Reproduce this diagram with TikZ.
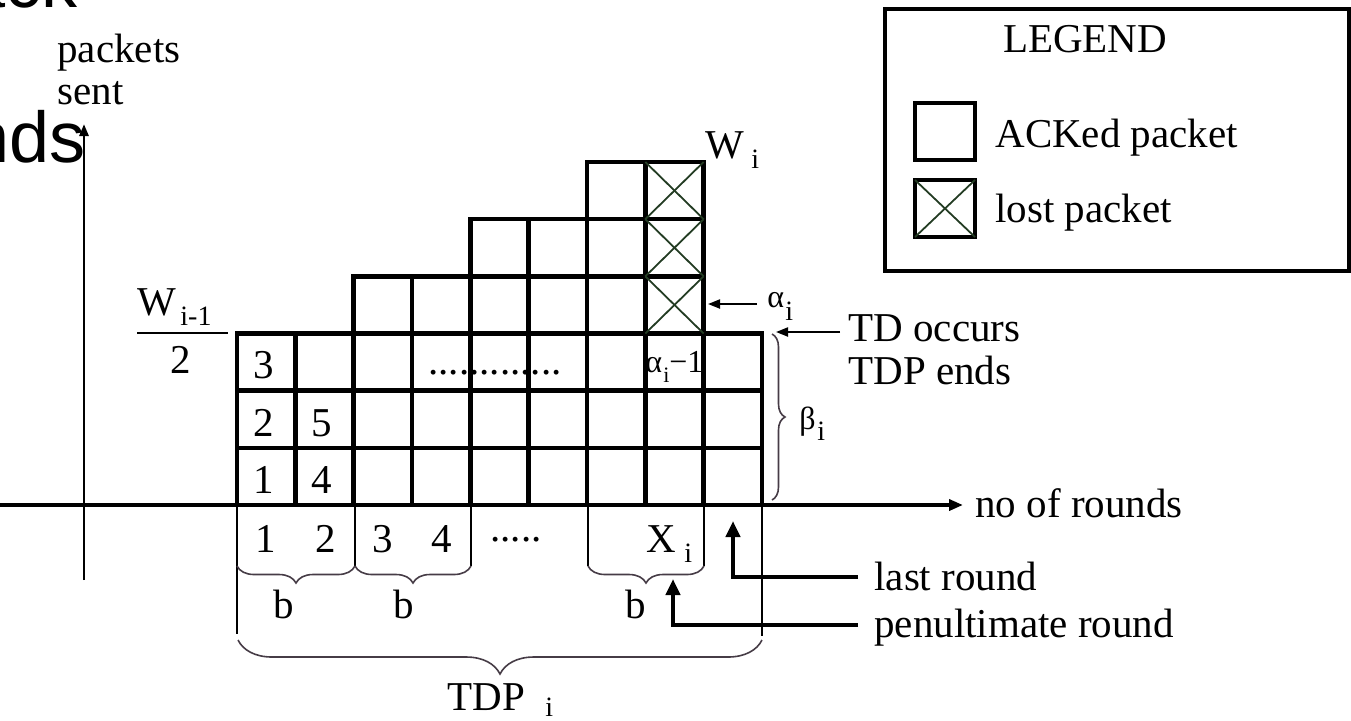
\documentclass[tikz,border=0pt]{standalone}
\usepackage{fontspec}
\setmainfont{Liberation Serif}
\newfontfamily\slidefont{Liberation Sans}
\usetikzlibrary{arrows.meta,decorations.pathreplacing}
\definecolor{xcol}{RGB}{35,60,35}
\definecolor{brcol}{RGB}{70,60,70}
\begin{document}
\begin{tikzpicture}[x=0.5pt,y=-0.5pt,
  lbl/.style={inner sep=0pt, font=\fontsize{20.5}{24}\selectfont},
  greek/.style={inner sep=0pt, font=\fontsize{16}{19}\selectfont},
  sub/.style={inner sep=0pt, font=\fontsize{14}{16}\selectfont},
  smallsub/.style={inner sep=0pt, font=\fontsize{11}{13}\selectfont},
  slide/.style={inner sep=0pt, font=\slidefont\fontsize{36}{40}\selectfont},
  cellline/.style={line width=2.2pt},
  crossline/.style={line width=0.9pt, draw=xcol},
  legline/.style={line width=1pt},
  axisline/.style={line width=2.3pt, -{Triangle[length=7pt,width=5.5pt]}},
  yaxisline/.style={line width=1.4pt, -{Triangle[length=6pt,width=4.5pt]}},
  thinarr/.style={line width=1pt, -{Triangle[length=6pt,width=4.5pt]}},
  bigarr/.style={line width=2pt, -{Triangle[length=8pt,width=7pt]}},
  bracedown/.style={decorate, decoration={brace,mirror,amplitude=#1}, line width=0.8pt, draw=brcol},
  braceright/.style={decorate, decoration={brace,amplitude=#1}, line width=0.8pt, draw=brcol},
  boxline/.style={line width=2pt}
]
\useasboundingbox (0,0) rectangle (1351,720);
\clip (0,0) rectangle (1351,720);

% slide fragments
\node[slide,anchor=base east] (fragA) at (78,7) {ack};
\node[slide,anchor=base east] (fragB) at (86,162) {nds};

% grid of packets
\foreach \h [count=\c from 0] in {3,3,4,4,5,5,6,6,3} {
  \foreach \r in {1,...,\h} {
    \draw[cellline] ({237+\c*58.33},{505-(\r-1)*57.17}) rectangle ++(58.33,-57.17);
  }
}
\foreach \r in {4,5,6} {
  \draw[crossline] ({237+7*58.33},{505-(\r-1)*57.17}) -- ++(58.33,-57.17);
  \draw[crossline] ({237+8*58.33},{505-(\r-1)*57.17}) -- ++(-58.33,-57.17);
}

% axes
\coordinate (xo) at (0,505);
\coordinate (xe) at (963,505);
\draw[axisline] (xo) -- (xe);
\coordinate (yo) at (84,580);
\coordinate (ye) at (84,124);
\draw[yaxisline] (yo) -- (ye);

\node[lbl,anchor=base west] (packets) at (57,62) {packets};
\node[lbl,anchor=base west] (sent) at (57,104) {sent};
\node[lbl,anchor=base west] (rounds) at (975,517) {no of rounds};

% fraction W_{i-1}/2
\node[lbl,anchor=base west] (wim) at (137,315) {W};
\node[sub,anchor=base west] (wimsub) at (180,325) {i-1};
\draw[line width=0.9pt] (137,333) -- (228,333);
\node[lbl,anchor=base] (two) at (181,373) {2};

% W_i
\node[lbl,anchor=base west] (wi) at (705,158) {W};
\node[sub,anchor=base west] (wisub) at (751,168) {i};

% cell numbers
\node[lbl,anchor=base] (n3) at (264,378) {3};
\node[lbl,anchor=base] (n2) at (264,436) {2};
\node[lbl,anchor=base] (n1) at (264,493) {1};
\node[lbl,anchor=base] (n5) at (322,436) {5};
\node[lbl,anchor=base] (n4) at (322,493) {4};
\node[lbl,anchor=base west] (dotsA) at (428,374) {.............};
\node[greek,anchor=base west] (am1) at (645,372) {α};
\node[smallsub,anchor=base west] (am1sub) at (663,382) {i};
\node[greek,anchor=base west] (am1b) at (669,372) {−1};

% alpha_i
\node[greek,anchor=base west] (alpha) at (767,307) {α};
\node[sub,anchor=base west] (alphasub) at (785,320) {i};
\coordinate (aS) at (757,304);
\coordinate (aT) at (708,304);
\draw[thinarr] (aS) -- (aT);

% TD occurs
\node[lbl,anchor=base west] (td) at (848,341) {TD occurs};
\node[lbl,anchor=base west] (tdp) at (848,384) {TDP ends};
\coordinate (tdS) at (840,332);
\coordinate (tdT) at (776,332);
\draw[thinarr] (tdS) -- (tdT);

% beta
\draw[braceright=6.5pt] (772,334) -- (772,500);
\node[greek,anchor=base west] (beta) at (799,429) {β};
\node[sub,anchor=base west] (betasub) at (817,440) {i};

% legs below the axis
\draw[legline] (237,505) -- (237,634);
\draw[legline] (355,505) -- (355,566);
\draw[legline] (471,505) -- (471,566);
\draw[legline] (588,505) -- (588,566);
\draw[legline] (704,505) -- (704,566);
\draw[legline] (762,505) -- (762,636);

% small braces
\draw[bracedown=8.5pt] (237,566) -- (355,566);
\draw[bracedown=8.5pt] (355,566) -- (471,566);
\draw[bracedown=8.5pt] (588,566) -- (704,566);
% big brace
\draw[bracedown=17pt] (238,640) -- (762,640);

% round numbers
\node[lbl,anchor=base] (r1) at (266,552) {1};
\node[lbl,anchor=base] (r2) at (326,552) {2};
\node[lbl,anchor=base] (r3) at (383,552) {3};
\node[lbl,anchor=base] (r4) at (442,552) {4};
\node[lbl,anchor=base west] (dotsB) at (490,541) {.....};
\node[lbl,anchor=base west] (xi) at (646,552) {X};
\node[sub,anchor=base west] (xisub) at (684,562) {i};

\node[lbl,anchor=base] (b1) at (284,618) {b};
\node[lbl,anchor=base] (b2) at (404,618) {b};
\node[lbl,anchor=base] (b3) at (636,618) {b};

\node[lbl,anchor=base west] (tdpi) at (447,710) {TDP};
\node[sub,anchor=base west] (tdpisub) at (545,716) {i};

% last / penultimate round
\node[lbl,anchor=base west] (last) at (874,590) {last round};
\node[lbl,anchor=base west] (penult) at (874,637) {penultimate round};
\coordinate (lastS) at (858,577);
\coordinate (lastT) at (733,521);
\draw[bigarr] (lastS) -| (lastT);
\coordinate (penS) at (858,625);
\coordinate (penT) at (673,579);
\draw[bigarr] (penS) -| (penT);

% legend
\draw[boxline] (885,9) rectangle (1349,271);
\node[lbl,anchor=base] (legtitle) at (1085,52) {LEGEND};
\draw[boxline] (915,103) rectangle (975,160);
\draw[boxline] (915,180) rectangle (975,237);
\draw[crossline] (915,180) -- (975,237);
\draw[crossline] (975,180) -- (915,237);
\node[lbl,anchor=base west] (ack) at (995,147) {ACKed packet};
\node[lbl,anchor=base west] (lost) at (995,222) {lost packet};
\end{tikzpicture}
\end{document}
